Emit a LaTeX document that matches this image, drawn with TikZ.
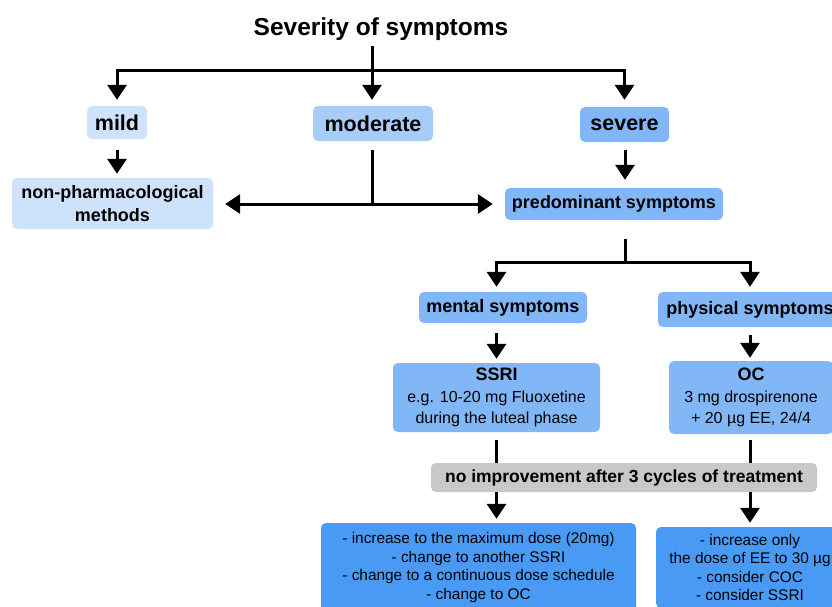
\documentclass[tikz,border=0pt]{standalone}
\usepackage{fontspec}
\setmainfont{Liberation Sans}
\usetikzlibrary{arrows.meta}
\definecolor{cA}{RGB}{207,226,252}
\definecolor{cB}{RGB}{168,204,248}
\definecolor{cC}{RGB}{130,183,247}
\definecolor{cD}{RGB}{72,154,245}
\definecolor{cG}{RGB}{200,200,200}
\begin{document}
\begin{tikzpicture}[x=1pt,y=-1pt,
  box/.style={rounded corners=5pt, inner sep=0pt, align=center, text=black},
  bighead/.style={font=\fontsize{21.5}{26}\selectfont\bfseries},
  midhead/.style={font=\fontsize{18}{23}\selectfont\bfseries},
  ln/.style={line width=3pt},
  arr/.style={line width=3pt, -{Triangle[width=19pt,length=15pt]}},
]
\useasboundingbox (0,0) rectangle (832,607);
\clip (0,0) rectangle (832,607);

% nodes
\node[font=\fontsize{24.5}{28}\selectfont\bfseries] (title) at (381,29) {Severity of symptoms};
\node[box, bighead, fill=cA, minimum width=60pt, minimum height=33pt] (mild) at (117,122.5) {mild};
\node[box, bighead, fill=cB, minimum width=120pt, minimum height=35pt] (moderate) at (373,123.5) {moderate};
\node[box, bighead, fill=cC, minimum width=89pt, minimum height=35pt] (severe) at (624.5,124.5) {severe};
\node[box, midhead, fill=cA, minimum width=201pt, minimum height=51pt] (nonpharm) at (112.5,203.5) {non-pharmacological\\methods};
\node[box, midhead, fill=cC, minimum width=218pt, minimum height=32pt] (predom) at (614,204) {predominant symptoms};
\node[box, midhead, fill=cC, minimum width=168pt, minimum height=31pt] (mental) at (503,307.5) {mental symptoms};
\node[box, midhead, fill=cC, minimum width=184pt, minimum height=35pt] (physical) at (750,309.5) {physical symptoms};
\node[box, fill=cC, minimum width=207pt, minimum height=69pt, font=\fontsize{16}{21.5}\selectfont] (ssri) at (496.5,397.5)
  {{\fontsize{18}{21.5}\selectfont\bfseries SSRI}\\e.g. 10-20 mg Fluoxetine\\during the luteal phase};
\node[box, fill=cC, minimum width=164pt, minimum height=73pt, font=\fontsize{16}{21.5}\selectfont] (oc) at (751,397.5)
  {{\fontsize{18}{21.5}\selectfont\bfseries OC}\\3 mg drospirenone\\+ 20 µg EE, 24/4};
\node[box, fill=cG, minimum width=386pt, minimum height=29pt, font=\fontsize{17.5}{21}\selectfont\bfseries] (gray) at (624,477.5)
  {no improvement after 3 cycles of treatment};
\node[box, fill=cD, minimum width=315pt, minimum height=89pt, font=\fontsize{15.4}{18.4}\selectfont] (bl) at (478.5,567.5)
  {- increase to the maximum dose (20mg)\\- change to another SSRI\\- change to a continuous dose schedule\\- change to OC};
\node[box, fill=cD, minimum width=188pt, minimum height=81pt, font=\fontsize{15.4}{18.4}\selectfont] (br) at (750,567.5)
  {- increase only\\the dose of EE to 30 µg\\- consider COC\\- consider SSRI};

% junctions
\coordinate (j1) at (372,71);
\coordinate (j2) at (372,204);
\coordinate (j3) at (625,262);

% connectors
\draw[ln, shorten <=2pt] (title.south -| j1) -- (j1);
\draw[ln] (j1 -| mild.north) -- (j1 -| severe.north);
\draw[arr] (j1) -| ([yshift=6pt]mild.north);
\draw[arr] (j1) -- ([yshift=6pt]moderate.north -| j1);
\draw[arr] (j1) -| ([yshift=7pt]severe.north);

\draw[arr, shorten <=11pt, shorten >=4pt] (mild.south) -- (mild.south |- nonpharm.north);
\draw[ln, shorten <=9pt] (moderate.south -| j2) -- (j2);
\draw[arr] (j2) -- ([xshift=12pt]nonpharm.east |- j2);
\draw[arr] (j2) -- ([xshift=-12pt]predom.west |- j2);
\draw[arr, shorten <=8pt, shorten >=8pt] (severe.south -| j3) -- (predom.north -| j3);

\draw[ln, shorten <=19pt] (predom.south -| j3) -- (j3);
\draw[ln] (j3 -| ssri.north) -- (j3 -| physical.north);
\draw[arr] (j3) -| ([yshift=5pt]ssri.north |- mental.north);
\draw[arr] (j3) -| ([yshift=5pt]physical.north);

\draw[arr, shorten <=10pt, shorten >=4pt] (ssri.north |- mental.south) -- (ssri.north);
\draw[arr, shorten <=8pt, shorten >=3pt] (physical.south) -- (physical.south |- oc.north);

\draw[ln, shorten <=8pt] (ssri.south) -- (ssri.south |- gray.north);
\draw[ln, shorten <=6pt] (oc.south -| physical.south) -- (physical.south |- gray.north);
\draw[arr, shorten >=4pt] (ssri.south |- gray.south) -- (ssri.south |- bl.north);
\draw[arr, shorten >=4pt] (physical.south |- gray.south) -- (physical.south |- br.north);
\end{tikzpicture}
\end{document}
